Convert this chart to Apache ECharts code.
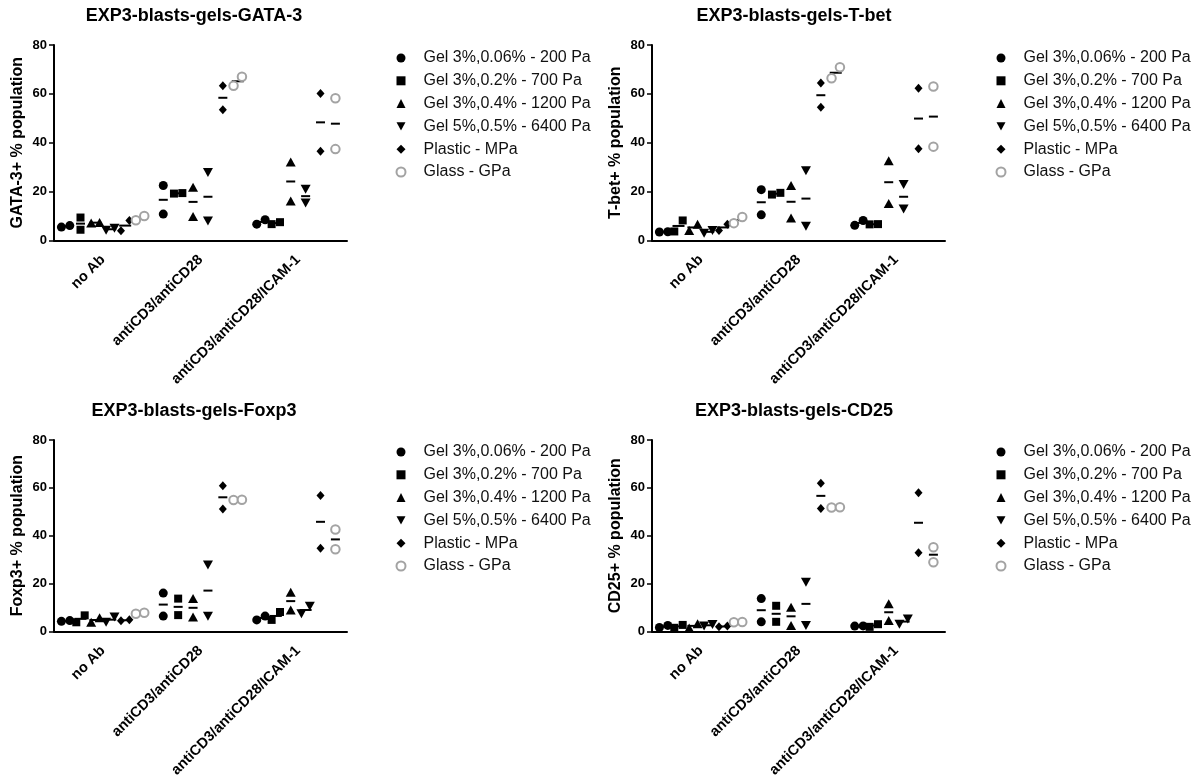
<!DOCTYPE html>
<html>
<head>
<meta charset="utf-8">
<script src="https://cdn.jsdelivr.net/npm/echarts@6/dist/echarts.min.js"></script>
<style>
html,body{margin:0;padding:0;background:#fff;}
#chart{width:1194px;height:780px;}
</style>
</head>
<body>
<div id="chart"></div>
<script>
// ---------- DATA ----------
const categories = ['no Ab', 'antiCD3/antiCD28', 'antiCD3/antiCD28/ICAM-1'];
const groupNames = ['Gel 3%,0.06% - 200 Pa', 'Gel 3%,0.2% - 700 Pa', 'Gel 3%,0.4% - 1200 Pa', 'Gel 5%,0.5% - 6400 Pa', 'Plastic - MPa', 'Glass - GPa'];
const panelTitles = ['EXP3-blasts-gels-GATA-3', 'EXP3-blasts-gels-T-bet', 'EXP3-blasts-gels-Foxp3', 'EXP3-blasts-gels-CD25'];
const yAxisNames = ['GATA-3+ % population', 'T-bet+ % population', 'Foxp3+ % population', 'CD25+ % population'];
const yTicks = [0, 20, 40, 60, 80];

// each array: per category [replicate1, replicate2]
const gata3_gel200 = [[5.5, 6.1], [22.5, 10.8], [6.7, 8.5]];
const gata3_gel700 = [[9.4, 4.4], [19.2, 19.4], [6.7, 7.5]];
const gata3_gel1200 = [[7.2, 7.4], [21.8, 9.8], [32.1, 16.2]];
const gata3_gel6400 = [[4.2, 5.0], [27.8, 8.0], [21.0, 15.3]];
const gata3_plastic = [[4.0, 8.2], [63.3, 53.5], [60.2, 36.5]];
const gata3_glass = [[8.3, 10.0], [63.3, 67.0], [58.2, 37.4]];

const tbet_gel200 = [[3.5, 3.6], [20.8, 10.5], [6.2, 8.2]];
const tbet_gel700 = [[3.7, 8.2], [18.8, 19.5], [6.6, 6.7]];
const tbet_gel1200 = [[4.1, 6.6], [22.5, 9.2], [32.6, 15.1]];
const tbet_gel6400 = [[3.0, 4.1], [28.5, 5.8], [22.9, 12.9]];
const tbet_plastic = [[4.1, 6.6], [64.4, 54.5], [62.3, 37.5]];
const tbet_glass = [[7.1, 9.6], [66.4, 70.9], [63.0, 38.4]];

const foxp3_gel200 = [[4.2, 4.5], [16.0, 6.4], [4.8, 6.4]];
const foxp3_gel700 = [[3.8, 6.7], [13.7, 6.8], [4.8, 8.1]];
const foxp3_gel1200 = [[3.8, 5.7], [13.7, 6.0], [16.4, 8.9]];
const foxp3_gel6400 = [[3.8, 6.0], [27.8, 6.3], [7.4, 10.5]];
const foxp3_plastic = [[4.4, 4.9], [60.9, 51.2], [56.8, 34.8]];
const foxp3_glass = [[7.4, 7.8], [54.9, 55.0], [42.6, 34.3]];

const cd25_gel200 = [[1.6, 2.5], [13.7, 4.0], [2.2, 2.3]];
const cd25_gel700 = [[1.5, 2.7], [10.7, 4.0], [1.9, 3.0]];
const cd25_gel1200 = [[1.4, 3.2], [10.1, 2.5], [11.5, 4.5]];
const cd25_gel6400 = [[2.2, 2.9], [20.5, 2.5], [3.0, 5.2]];
const cd25_plastic = [[1.9, 2.2], [61.9, 51.4], [57.9, 32.9]];
const cd25_glass = [[3.8, 3.9], [51.8, 51.9], [35.2, 28.9]];

const panelData = [
  [gata3_gel200, gata3_gel700, gata3_gel1200, gata3_gel6400, gata3_plastic, gata3_glass],
  [tbet_gel200, tbet_gel700, tbet_gel1200, tbet_gel6400, tbet_plastic, tbet_glass],
  [foxp3_gel200, foxp3_gel700, foxp3_gel1200, foxp3_gel6400, foxp3_plastic, foxp3_glass],
  [cd25_gel200, cd25_gel700, cd25_gel1200, cd25_gel6400, cd25_plastic, cd25_glass]
];

// ---------- STYLE / LAYOUT ----------
const FONT = 'Liberation Sans, Arial, Helvetica, sans-serif';
const GREY = '#a3a3a3';
const DOWN_TRI = 'path://M0,0L10,0L5,9Z';
const symbols = ['circle', 'rect', 'triangle', DOWN_TRI, 'diamond', 'emptyCircle'];
const symbolSizes = [9, 8, [10, 9], [10, 9], [8, 9], 8.5];
const colors = ['#000', '#000', '#000', '#000', '#000', GREY];
const grids = [
  {left: 54, top: 45, width: 293, height: 195.5},
  {left: 652, top: 45, width: 293, height: 195.5},
  {left: 54, top: 440, width: 293, height: 195.5},
  {left: 652, top: 440, width: 293, height: 195.5}
];
const titlePos = [[194, 7], [794, 7], [194, 402], [794, 402]];
const legendPos = [[395.5, 50], [995.5, 50], [395.5, 444], [995.5, 444]];
const GROUP_STEP = 0.1525;   // spacing of groups within a category (category units)
const JIT = 0.043;           // side-by-side offset for overlapping replicates
const JIT_THRESHOLD = 5;     // % units

function layoutGroup(values, catIdx, groupIdx) {
  const base = catIdx + 0.5 + (groupIdx - 2.5) * GROUP_STEP;
  const a = values[0], b = values[1];
  const mean = (a + b) / 2;
  if (Math.abs(a - b) < JIT_THRESHOLD) {
    return {pts: [[base - JIT, Math.min(a, b)], [base + JIT, Math.max(a, b)]], mean: [base, mean], wide: true};
  }
  return {pts: [[base, a], [base, b]], mean: [base, mean], wide: false};
}

const option = {
  animation: false,
  backgroundColor: '#fff',
  textStyle: {fontFamily: FONT},
  title: [], grid: grids, xAxis: [], yAxis: [], legend: [], series: []
};

panelData.forEach((groups, p) => {
  option.title.push({
    text: panelTitles[p], left: titlePos[p][0], top: titlePos[p][1], textAlign: 'center', padding: 0,
    textStyle: {fontFamily: FONT, fontSize: 18, fontWeight: 'bold', color: '#000'}
  });
  option.xAxis.push({
    type: 'category', gridIndex: p, data: categories, boundaryGap: true,
    axisLine: {lineStyle: {color: '#000', width: 2}},
    axisTick: {alignWithLabel: true, length: 5, lineStyle: {color: '#000', width: 1.5}},
    axisLabel: {rotate: 45, margin: 17, color: '#000', fontFamily: FONT, fontSize: 14.5, fontWeight: 'bold', interval: 0},
    splitLine: {show: false}
  });
  option.xAxis.push({type: 'value', gridIndex: p, min: 0, max: 3, show: false});
  option.yAxis.push({
    type: 'value', gridIndex: p, min: yTicks[0], max: yTicks[yTicks.length - 1], interval: yTicks[1] - yTicks[0],
    name: yAxisNames[p], nameLocation: 'middle', nameGap: 28.5,
    nameTextStyle: {fontFamily: FONT, fontSize: 16, fontWeight: 'bold', color: '#000'},
    axisLine: {show: true, lineStyle: {color: '#000', width: 2}},
    axisTick: {show: true, length: 5, lineStyle: {color: '#000', width: 1.5}},
    axisLabel: {margin: 7, color: '#000', fontFamily: FONT, fontSize: 13, fontWeight: 'bold'},
    splitLine: {show: false}
  });
  option.legend.push({
    orient: 'vertical', left: legendPos[p][0], top: legendPos[p][1],
    itemWidth: 9, itemHeight: 9, itemGap: 6.8, padding: 0,
    selectedMode: false,
    textStyle: {fontFamily: FONT, fontSize: 16, color: '#111', padding: [0, 0, 0, 13]},
    data: groupNames.map((n, k) => ({name: n, icon: symbols[k]}))
  });
  const meanData = [];
  groups.forEach((vals, g) => {
    const pts = [];
    vals.forEach((pair, c) => {
      const L = layoutGroup(pair, c, g);
      pts.push(...L.pts);
      meanData.push({value: L.mean, symbolSize: [L.wide ? 12 : 9, 2]});
    });
    option.series.push({
      type: 'scatter', name: groupNames[g], xAxisIndex: 2 * p + 1, yAxisIndex: p,
      symbol: symbols[g], symbolSize: symbolSizes[g], z: 3,
      itemStyle: g === 5
        ? {color: GREY, borderColor: GREY, borderWidth: 2.6, opacity: 1}
        : {color: colors[g], borderWidth: 0, opacity: 1},
      emphasis: {disabled: true},
      data: pts
    });
  });
  option.series.push({
    type: 'scatter', name: 'mean', xAxisIndex: 2 * p + 1, yAxisIndex: p,
    symbol: 'rect', z: 2, itemStyle: {color: '#000', opacity: 1}, emphasis: {disabled: true},
    data: meanData
  });
});

const chart = echarts.init(document.getElementById('chart'), null, {renderer: 'canvas'});
chart.setOption(option);
</script>
</body>
</html>
